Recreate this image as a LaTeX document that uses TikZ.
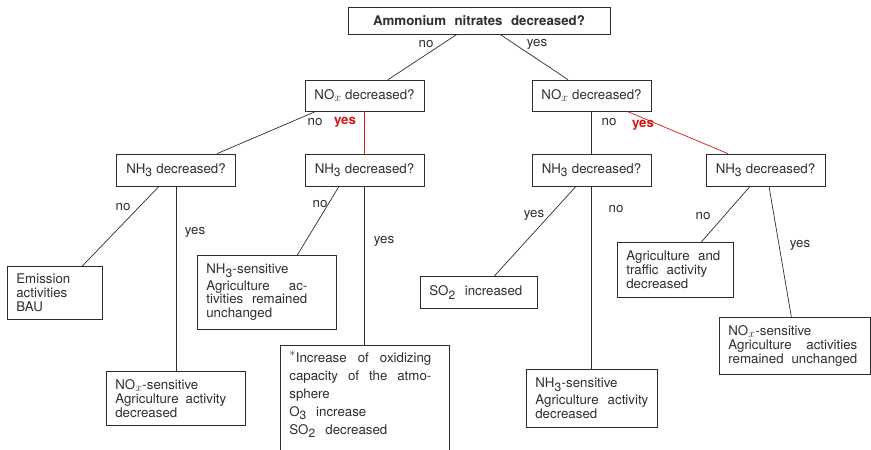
\documentclass[tikz,border=0pt]{standalone}
\usepackage{fontspec}
\setmainfont{TeX Gyre Heros}
\usepackage{tikz}

\definecolor{ink}{RGB}{45,45,45}
\definecolor{yesred}{RGB}{215,20,20}
\DeclareMathSizes{13.3}{13.3}{12}{9}
\newcommand{\figfont}{\fontsize{13.3}{13.8}\selectfont}
\newcommand{\spread}[2]{\makebox[#1pt][s]{\spaceskip=0pt\xspaceskip=0pt #2}}
\newcommand{\NOx}{NO$_x$}

\begin{document}
\begin{tikzpicture}[x=1pt, y=-1pt, line width=0.7pt, color=ink, font=\figfont,
    qbox/.style={draw, minimum width=119pt, minimum height=32pt, inner sep=0pt},
    rbox/.style={draw, anchor=north west, align=left, inner xsep=9pt, inner ysep=4pt},
    lbl/.style={inner sep=1pt},
    yeslbl/.style={inner sep=1pt, text=yesred, font=\figfont\bfseries}]
    \useasboundingbox (0,0) rectangle (871,450);

    % draw question boxes
    \node[qbox, minimum width=262pt, minimum height=27pt] (top) at (479,20.5) {\bfseries\spread{212}{Ammonium nitrates decreased?}};
    \node[qbox, minimum height=31pt] (noxl) at (364.5,95.5) {\NOx{} decreased?};
    \node[qbox, minimum height=31pt] (noxr) at (591.5,95.5) {\NOx{} decreased?};
    \node[qbox] (nhA) at (176,170) {NH\textsubscript{3} decreased?};
    \node[qbox] (nhB) at (364.5,170) {NH\textsubscript{3} decreased?};
    \node[qbox] (nhC) at (591.5,170) {NH\textsubscript{3} decreased?};
    \node[qbox] (nhD) at (765.5,170) {NH\textsubscript{3} decreased?};

    % draw result boxes
    \node[rbox, text width=77pt, minimum height=53pt] (emis) at (7,266) {Emission\\activities\\BAU};
    \node[rbox, text width=121pt, minimum height=54pt] (noxsensA) at (106,371)
        {\NOx-sensitive\\\spread{111}{Agriculture activity}\\decreased};
    \node[rbox, text width=121pt, minimum height=74pt] (nhsensA) at (197,255)
        {NH\textsubscript{3}-sensitive\\[2.5pt]\spread{101}{Agriculture ac-}\\\spread{101}{tivities remained}\\unchanged};
    \node[rbox, text width=151pt, inner ysep=6pt, font=\fontsize{13.3}{18}\selectfont] (oxid) at (280,345)
        {\spread{142}{$^*$Increase of oxidizing}\\\spread{142}{capacity of the atmo-}\\sphere\\
         \spread{77}{O\textsubscript{3} increase}\\\spread{98}{SO\textsubscript{2} decreased}\\\mbox{}\\\mbox{}};
    \node[rbox, text width=99pt, minimum height=32pt] (so2) at (420,276) {\spread{93}{SO\textsubscript{2} increased}};
    \node[rbox, text width=113pt, minimum height=58pt] (nhsensB) at (526,369)
        {NH\textsubscript{3}-sensitive\\[3pt]\spread{113}{Agriculture activity}\\decreased};
    \node[rbox, text width=98pt, minimum height=55pt] (agri) at (617,242)
        {\spread{94}{Agriculture and}\\\spread{81}{traffic activity}\\decreased};
    \node[rbox, text width=133pt, minimum height=57pt] (noxsensB) at (719,317)
        {\NOx-sensitive\\\spread{129}{Agriculture activities}\\\spread{129}{remained unchanged}};

    % draw connectors
    \draw ([xshift=-22pt]top.south) -- ([xshift=23.5pt]noxl.north);
    \draw ([xshift=21pt]top.south) -- ([xshift=-23.5pt]noxr.north);
    \draw ([xshift=-48.5pt]noxl.south) -- ([xshift=41pt]nhA.north);
    \draw[yesred] (noxl.south) -- (nhB.north);
    \draw (noxr.south) -- (nhC.north);
    \draw[yesred] ([xshift=35.5pt]noxr.south) -- ([xshift=-37.5pt]nhD.north);
    \draw ([xshift=-17pt]nhA.south) -- ([xshift=27.5pt]emis.north);
    \draw (nhA.south) -- (nhA.south |- noxsensA.north);
    \draw ([xshift=-25.5pt]nhB.south) -- ([xshift=30.5pt]nhsensA.north);
    \draw (nhB.south) -- (nhB.south |- oxid.north);
    \draw ([xshift=-15.5pt]nhC.south) -- ([xshift=15.5pt]so2.north);
    \draw (nhC.south) -- (nhC.south |- nhsensB.north);
    \draw ([xshift=-15.5pt]nhD.south) -- ([xshift=26pt]agri.north);
    \draw ([xshift=3.5pt]nhD.south) -- ([xshift=-3.5pt]noxsensB.north);

    % draw labels
    \node[lbl] (l1) at (426,44) {no};
    \node[lbl] (l2) at (537,44) {yes};
    \node[lbl] (l3) at (315,122) {no};
    \node[yeslbl] (l4) at (345,122) {yes};
    \node[lbl] (l5) at (609,122) {no};
    \node[yeslbl] (l6) at (643,125) {yes};
    \node[lbl] (l7) at (123,207) {no};
    \node[lbl] (l8) at (195,232) {yes};
    \node[lbl] (l9) at (320,204) {no};
    \node[lbl] (l10) at (384,241) {yes};
    \node[lbl] (l11) at (534,215) {yes};
    \node[lbl] (l12) at (616,209) {no};
    \node[lbl] (l13) at (703,216) {no};
    \node[lbl] (l14) at (800,245) {yes};
\end{tikzpicture}
\end{document}
